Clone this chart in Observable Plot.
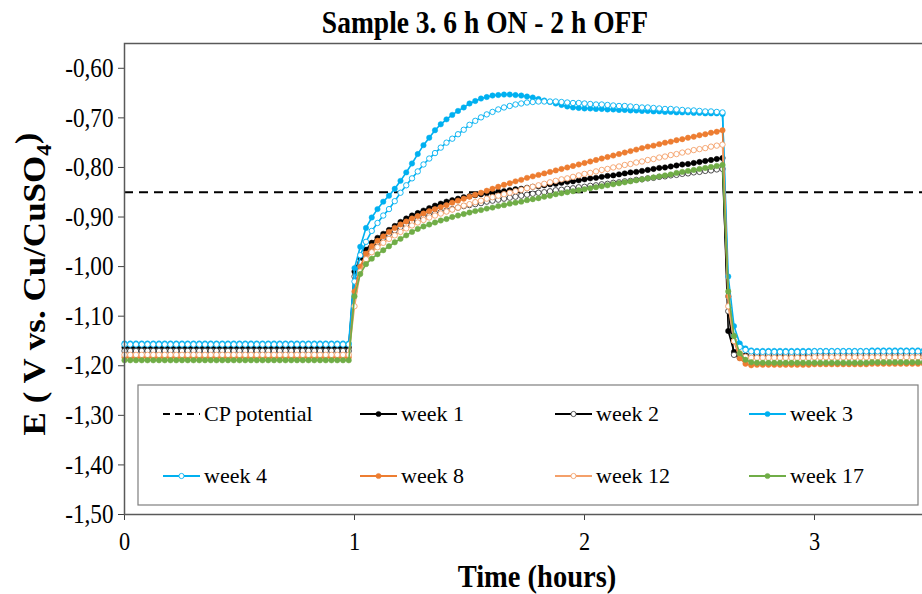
<!DOCTYPE html>
<html>
<head>
<meta charset="utf-8">
<script src="https://cdn.jsdelivr.net/npm/d3@7"></script>
<script src="https://cdn.jsdelivr.net/npm/@observablehq/plot@0.6"></script>
<style>
  html, body { margin: 0; padding: 0; background: #fff; overflow: hidden; }
  #chart { position: relative; width: 922px; height: 594px; overflow: hidden; }
  #chart svg { max-width: none !important; }
</style>
</head>
<body>
<div id="chart"></div>
<script>
// Sampling times (hours)
const hours = [
  0,0.025,0.05,0.075,0.1,0.125,0.15,0.175,0.2,0.225,
  0.25,0.275,0.3,0.325,0.35,0.375,0.4,0.425,0.45,0.475,
  0.5,0.525,0.55,0.575,0.6,0.625,0.65,0.675,0.7,0.725,
  0.75,0.775,0.8,0.825,0.85,0.875,0.9,0.925,0.95,0.975,
  1,1.025,1.05,1.075,1.1,1.125,1.15,1.175,1.2,1.225,
  1.25,1.275,1.3,1.325,1.35,1.375,1.4,1.425,1.45,1.475,
  1.5,1.525,1.55,1.575,1.6,1.625,1.65,1.675,1.7,1.725,
  1.75,1.775,1.8,1.825,1.85,1.875,1.9,1.925,1.95,1.975,
  2,2.025,2.05,2.075,2.1,2.125,2.15,2.175,2.2,2.225,
  2.25,2.275,2.3,2.325,2.35,2.375,2.4,2.425,2.45,2.475,
  2.5,2.525,2.55,2.575,2.6,2.625,2.65,2.675,2.7,2.725,
  2.75,2.775,2.8,2.825,2.85,2.875,2.9,2.925,2.95,2.975,
  3,3.025,3.05,3.075,3.1,3.125,3.15,3.175,3.2,3.225,
  3.25,3.275,3.3,3.325,3.35,3.375,3.4,3.425,3.45,3.475
];

// Cathodic protection criterion (V vs. Cu/CuSO4)
const cpPotential = -0.85;

// Measured potentials (V vs. Cu/CuSO4)
const week1 = [
  -1.163,-1.163,-1.163,-1.163,-1.163,-1.163,-1.163,-1.163,-1.163,-1.163,
  -1.163,-1.163,-1.163,-1.163,-1.163,-1.163,-1.163,-1.163,-1.163,-1.163,
  -1.163,-1.163,-1.163,-1.163,-1.163,-1.163,-1.163,-1.163,-1.163,-1.163,
  -1.163,-1.163,-1.163,-1.163,-1.163,-1.163,-1.163,-1.163,-1.163,-1.163,
  -1.010,-0.983,-0.966,-0.952,-0.942,-0.934,-0.926,-0.918,-0.910,-0.903,
  -0.897,-0.892,-0.887,-0.882,-0.877,-0.873,-0.869,-0.866,-0.863,-0.860,
  -0.858,-0.856,-0.854,-0.852,-0.851,-0.849,-0.848,-0.846,-0.844,-0.843,
  -0.841,-0.839,-0.838,-0.836,-0.834,-0.833,-0.831,-0.829,-0.828,-0.826,
  -0.824,-0.822,-0.821,-0.819,-0.817,-0.816,-0.814,-0.812,-0.810,-0.809,
  -0.807,-0.805,-0.803,-0.801,-0.800,-0.798,-0.796,-0.794,-0.793,-0.791,
  -0.789,-0.787,-0.785,-0.783,-0.781,-1.130,-1.172,-1.178,-1.179,-1.179,
  -1.178,-1.178,-1.178,-1.178,-1.178,-1.178,-1.178,-1.178,-1.178,-1.178,
  -1.177,-1.177,-1.177,-1.177,-1.177,-1.177,-1.177,-1.177,-1.177,-1.177,
  -1.176,-1.176,-1.176,-1.176,-1.176,-1.176,-1.176,-1.176,-1.176,-1.176
];
const week2 = [
  -1.170,-1.170,-1.170,-1.170,-1.170,-1.170,-1.170,-1.170,-1.170,-1.170,
  -1.170,-1.170,-1.170,-1.170,-1.170,-1.170,-1.170,-1.170,-1.170,-1.170,
  -1.170,-1.170,-1.170,-1.170,-1.170,-1.170,-1.170,-1.170,-1.170,-1.170,
  -1.170,-1.170,-1.170,-1.170,-1.170,-1.170,-1.170,-1.170,-1.170,-1.170,
  -1.020,-0.992,-0.975,-0.961,-0.951,-0.942,-0.934,-0.927,-0.920,-0.915,
  -0.910,-0.905,-0.901,-0.897,-0.893,-0.890,-0.887,-0.884,-0.881,-0.878,
  -0.876,-0.874,-0.872,-0.869,-0.867,-0.865,-0.863,-0.861,-0.859,-0.857,
  -0.855,-0.853,-0.851,-0.850,-0.848,-0.846,-0.845,-0.843,-0.842,-0.840,
  -0.839,-0.837,-0.836,-0.834,-0.833,-0.831,-0.830,-0.828,-0.827,-0.825,
  -0.824,-0.822,-0.821,-0.819,-0.818,-0.816,-0.815,-0.813,-0.812,-0.810,
  -0.809,-0.807,-0.806,-0.804,-0.803,-1.090,-1.178,-1.184,-1.181,-1.179,
  -1.178,-1.178,-1.178,-1.178,-1.178,-1.178,-1.178,-1.178,-1.178,-1.178,
  -1.177,-1.177,-1.177,-1.177,-1.177,-1.177,-1.177,-1.177,-1.177,-1.177,
  -1.177,-1.177,-1.177,-1.177,-1.177,-1.177,-1.177,-1.177,-1.177,-1.177
];
const week3 = [
  -1.155,-1.155,-1.155,-1.155,-1.155,-1.155,-1.155,-1.155,-1.155,-1.155,
  -1.155,-1.155,-1.155,-1.155,-1.155,-1.155,-1.155,-1.155,-1.155,-1.155,
  -1.155,-1.155,-1.155,-1.155,-1.155,-1.155,-1.155,-1.155,-1.155,-1.155,
  -1.155,-1.155,-1.155,-1.155,-1.155,-1.155,-1.155,-1.155,-1.155,-1.155,
  -1.003,-0.960,-0.922,-0.901,-0.884,-0.869,-0.857,-0.843,-0.827,-0.810,
  -0.792,-0.773,-0.755,-0.740,-0.725,-0.713,-0.703,-0.694,-0.686,-0.679,
  -0.671,-0.666,-0.661,-0.658,-0.655,-0.654,-0.653,-0.653,-0.654,-0.655,
  -0.657,-0.659,-0.662,-0.665,-0.668,-0.671,-0.674,-0.677,-0.679,-0.680,
  -0.681,-0.681,-0.682,-0.682,-0.683,-0.683,-0.684,-0.684,-0.685,-0.685,
  -0.686,-0.686,-0.687,-0.687,-0.688,-0.688,-0.689,-0.689,-0.689,-0.690,
  -0.690,-0.691,-0.691,-0.691,-0.692,-1.020,-1.120,-1.155,-1.165,-1.169,
  -1.170,-1.170,-1.170,-1.170,-1.170,-1.170,-1.170,-1.170,-1.170,-1.170,
  -1.170,-1.170,-1.170,-1.170,-1.170,-1.170,-1.170,-1.170,-1.170,-1.170,
  -1.169,-1.169,-1.169,-1.169,-1.169,-1.169,-1.169,-1.169,-1.169,-1.169
];
const week4 = [
  -1.157,-1.157,-1.157,-1.157,-1.157,-1.157,-1.157,-1.157,-1.157,-1.157,
  -1.157,-1.157,-1.157,-1.157,-1.157,-1.157,-1.157,-1.157,-1.157,-1.157,
  -1.157,-1.157,-1.157,-1.157,-1.157,-1.157,-1.157,-1.157,-1.157,-1.157,
  -1.157,-1.157,-1.157,-1.157,-1.157,-1.157,-1.157,-1.157,-1.157,-1.157,
  -1.030,-0.977,-0.950,-0.928,-0.912,-0.897,-0.884,-0.868,-0.851,-0.836,
  -0.822,-0.808,-0.794,-0.782,-0.771,-0.760,-0.750,-0.742,-0.733,-0.724,
  -0.714,-0.706,-0.699,-0.693,-0.688,-0.683,-0.679,-0.676,-0.673,-0.671,
  -0.669,-0.668,-0.667,-0.667,-0.667,-0.667,-0.668,-0.669,-0.670,-0.670,
  -0.671,-0.672,-0.673,-0.673,-0.674,-0.675,-0.676,-0.676,-0.677,-0.678,
  -0.679,-0.679,-0.680,-0.681,-0.682,-0.682,-0.683,-0.684,-0.685,-0.685,
  -0.686,-0.687,-0.687,-0.688,-0.689,-1.060,-1.140,-1.162,-1.168,-1.171,
  -1.172,-1.172,-1.172,-1.172,-1.172,-1.172,-1.172,-1.172,-1.172,-1.172,
  -1.171,-1.171,-1.171,-1.171,-1.171,-1.171,-1.171,-1.171,-1.171,-1.171,
  -1.171,-1.171,-1.171,-1.171,-1.171,-1.171,-1.171,-1.171,-1.171,-1.171
];
const week8 = [
  -1.183,-1.183,-1.183,-1.183,-1.183,-1.183,-1.183,-1.183,-1.183,-1.183,
  -1.183,-1.183,-1.183,-1.183,-1.183,-1.183,-1.183,-1.183,-1.183,-1.183,
  -1.183,-1.183,-1.183,-1.183,-1.183,-1.183,-1.183,-1.183,-1.183,-1.183,
  -1.183,-1.183,-1.183,-1.183,-1.183,-1.183,-1.183,-1.183,-1.183,-1.183,
  -1.050,-1.000,-0.974,-0.959,-0.948,-0.939,-0.930,-0.922,-0.915,-0.909,
  -0.903,-0.898,-0.893,-0.888,-0.884,-0.880,-0.876,-0.871,-0.867,-0.863,
  -0.859,-0.855,-0.851,-0.847,-0.843,-0.839,-0.835,-0.832,-0.828,-0.825,
  -0.821,-0.818,-0.815,-0.812,-0.809,-0.806,-0.803,-0.800,-0.797,-0.794,
  -0.791,-0.788,-0.785,-0.782,-0.779,-0.776,-0.773,-0.770,-0.767,-0.764,
  -0.761,-0.758,-0.756,-0.753,-0.750,-0.748,-0.745,-0.743,-0.740,-0.738,
  -0.735,-0.733,-0.730,-0.728,-0.725,-1.060,-1.150,-1.185,-1.196,-1.199,
  -1.198,-1.198,-1.198,-1.198,-1.198,-1.198,-1.198,-1.198,-1.198,-1.198,
  -1.197,-1.197,-1.197,-1.197,-1.197,-1.197,-1.197,-1.197,-1.197,-1.197,
  -1.196,-1.196,-1.196,-1.196,-1.196,-1.196,-1.196,-1.196,-1.196,-1.196
];
const week12 = [
  -1.178,-1.178,-1.178,-1.178,-1.178,-1.178,-1.178,-1.178,-1.178,-1.178,
  -1.178,-1.178,-1.178,-1.178,-1.178,-1.178,-1.178,-1.178,-1.178,-1.178,
  -1.178,-1.178,-1.178,-1.178,-1.178,-1.178,-1.178,-1.178,-1.178,-1.178,
  -1.178,-1.178,-1.178,-1.178,-1.178,-1.178,-1.178,-1.178,-1.178,-1.178,
  -1.080,-1.010,-0.985,-0.971,-0.961,-0.952,-0.944,-0.937,-0.930,-0.923,
  -0.917,-0.911,-0.906,-0.901,-0.897,-0.893,-0.889,-0.885,-0.881,-0.877,
  -0.874,-0.870,-0.867,-0.863,-0.860,-0.857,-0.854,-0.851,-0.848,-0.845,
  -0.842,-0.839,-0.836,-0.833,-0.830,-0.827,-0.824,-0.822,-0.819,-0.816,
  -0.813,-0.811,-0.808,-0.805,-0.803,-0.800,-0.798,-0.795,-0.793,-0.790,
  -0.788,-0.785,-0.783,-0.780,-0.778,-0.775,-0.773,-0.770,-0.768,-0.765,
  -0.763,-0.761,-0.758,-0.756,-0.754,-1.080,-1.150,-1.175,-1.182,-1.184,
  -1.184,-1.184,-1.184,-1.184,-1.184,-1.184,-1.184,-1.184,-1.184,-1.184,
  -1.183,-1.183,-1.183,-1.183,-1.183,-1.183,-1.183,-1.183,-1.183,-1.183,
  -1.183,-1.183,-1.183,-1.183,-1.183,-1.183,-1.183,-1.183,-1.183,-1.183
];
const week17 = [
  -1.189,-1.189,-1.189,-1.189,-1.189,-1.189,-1.189,-1.189,-1.189,-1.189,
  -1.189,-1.189,-1.189,-1.189,-1.189,-1.189,-1.189,-1.189,-1.189,-1.189,
  -1.189,-1.189,-1.189,-1.189,-1.189,-1.189,-1.189,-1.189,-1.189,-1.189,
  -1.189,-1.189,-1.189,-1.189,-1.189,-1.189,-1.189,-1.189,-1.189,-1.189,
  -1.060,-1.015,-0.995,-0.984,-0.975,-0.967,-0.959,-0.951,-0.944,-0.937,
  -0.930,-0.924,-0.919,-0.915,-0.911,-0.907,-0.904,-0.900,-0.897,-0.894,
  -0.891,-0.888,-0.886,-0.883,-0.881,-0.878,-0.876,-0.873,-0.871,-0.869,
  -0.866,-0.864,-0.862,-0.859,-0.857,-0.854,-0.852,-0.850,-0.848,-0.846,
  -0.844,-0.842,-0.840,-0.838,-0.836,-0.834,-0.832,-0.830,-0.828,-0.826,
  -0.824,-0.822,-0.820,-0.818,-0.816,-0.814,-0.811,-0.809,-0.807,-0.805,
  -0.803,-0.801,-0.799,-0.797,-0.795,-1.050,-1.140,-1.175,-1.188,-1.193,
  -1.194,-1.194,-1.194,-1.194,-1.194,-1.194,-1.194,-1.194,-1.194,-1.194,
  -1.194,-1.194,-1.194,-1.194,-1.194,-1.194,-1.194,-1.194,-1.194,-1.194,
  -1.193,-1.193,-1.193,-1.193,-1.193,-1.193,-1.193,-1.193,-1.193,-1.193
];

const seriesNames  = ["week 1", "week 2", "week 3", "week 4", "week 8", "week 12", "week 17"];
const seriesValues = [week1, week2, week3, week4, week8, week12, week17];
const seriesColors = ["#000000", "#000000", "#00b0f0", "#00b0f0", "#ed7d31", "#f4a06a", "#70ad47"];
const markerStroke = ["#000000", "#404040", "#00b0f0", "#00b0f0", "#ed7d31", "#f4a06a", "#70ad47"];
const seriesHollow = [false, true, false, true, false, true, false];

const xTicks = [0, 1, 2, 3];
const yTicks = [-0.6, -0.7, -0.8, -0.9, -1.0, -1.1, -1.2, -1.3, -1.4, -1.5];

const titleText = "Sample 3. 6 h ON - 2 h OFF";
const xLabelText = "Time (hours)";

const serif = "'Liberation Serif', 'Times New Roman', serif";
const commaFormat = v => v.toFixed(2).replace(".", ",");
const narrow = 0.86; // horizontal squeeze of the serif lettering

// One table per series: time and potential
const tables = seriesValues.map((vals, k) =>
  hours.map((t, i) => ({series: seriesNames[k], t, e: vals[i]}))
);

const seriesMarks = tables.flatMap((rows, k) => [
  Plot.line(rows, {x: "t", y: "e", stroke: seriesColors[k], strokeWidth: 1.6}),
  Plot.dot(rows, {
    x: "t", y: "e", r: 2.7,
    fill: seriesHollow[k] ? "#ffffff" : seriesColors[k],
    stroke: markerStroke[k],
    strokeWidth: seriesHollow[k] ? 0.9 : 0.5
  })
]);

const chart = Plot.plot({
  width: 930,
  height: 594,
  marginLeft: 124,
  marginRight: 1,
  marginTop: 43,
  marginBottom: 80,
  style: {fontFamily: serif, fontSize: "27px", color: "#000", background: "#fff"},
  x: {domain: [0, 3.5]},
  y: {domain: [-1.5, -0.55]},
  marks: [
    Plot.axisY({ticks: yTicks, tickFormat: commaFormat, tickSize: 6, tickPadding: 5,
                fontSize: 27, label: null, stroke: "#404040"}),
    Plot.axisX({ticks: xTicks, tickFormat: d => String(d), tickSize: 6, tickPadding: 11,
                fontSize: 26, label: null, stroke: "#404040"}),
    Plot.ruleY([cpPotential], {stroke: "#000", strokeWidth: 2, strokeDasharray: "9,6"}),
    ...seriesMarks,
    Plot.frame({stroke: "#595959", strokeWidth: 1.5})
  ]
});

document.getElementById("chart").appendChild(chart);

const svg = d3.select(chart);

// Narrow the tick lettering around each label's own anchor
svg.selectAll("g[aria-label$='tick label'] text").each(function() {
  const t = this.getAttribute("transform") || "";
  this.setAttribute("transform", t + ` scale(${narrow},1)`);
});

// Title
svg.append("text")
  .attr("transform", `translate(485,33) scale(${narrow},1)`)
  .attr("text-anchor", "middle")
  .style("font-family", serif).style("font-weight", "bold").style("font-size", "32px")
  .text(titleText);

// Axis titles
svg.append("text")
  .attr("transform", `translate(537,587) scale(0.92,1)`)
  .attr("text-anchor", "middle")
  .style("font-family", serif).style("font-weight", "bold").style("font-size", "31px")
  .text(xLabelText);

const yLabel = svg.append("text")
  .attr("transform", "translate(45,284) rotate(-90) scale(1,0.88)")
  .attr("text-anchor", "middle")
  .style("font-family", serif).style("font-weight", "bold").style("font-size", "35px");
yLabel.append("tspan").text("E ( V vs. Cu/CuSO");
yLabel.append("tspan").attr("dy", "0.3em").style("font-size", "23px").text("4");
yLabel.append("tspan").attr("dy", "-0.45em").text(")");

// Legend
const legend = svg.append("g")
  .attr("text-anchor", "start")
  .style("font-family", serif).style("font-size", "22px");
legend.append("rect")
  .attr("x", 138).attr("y", 385).attr("width", 780).attr("height", 120)
  .attr("fill", "#fff").attr("stroke", "#7f7f7f").attr("stroke-width", 1.2);

const legendItems = [{name: "CP potential", k: -1}].concat(seriesNames.map((name, k) => ({name, k})));
const colX = [163, 360, 555, 749];
const rowY = [414, 476];
legendItems.forEach((item, j) => {
  const x0 = colX[j % 4], y0 = rowY[Math.floor(j / 4)];
  const g = legend.append("g");
  if (item.k < 0) {
    g.append("line").attr("x1", x0).attr("x2", x0 + 37).attr("y1", y0).attr("y2", y0)
      .attr("stroke", "#000").attr("stroke-width", 2).attr("stroke-dasharray", "7,5");
  } else {
    const k = item.k;
    g.append("line").attr("x1", x0).attr("x2", x0 + 37).attr("y1", y0).attr("y2", y0)
      .attr("stroke", seriesColors[k]).attr("stroke-width", 2);
    g.append("circle").attr("cx", x0 + 18.5).attr("cy", y0).attr("r", 2.6)
      .attr("fill", seriesHollow[k] ? "#fff" : seriesColors[k])
      .attr("stroke", markerStroke[k]).attr("stroke-width", seriesHollow[k] ? 0.9 : 0.5);
  }
  g.append("text").attr("x", x0 + 41).attr("y", y0 + 7).attr("fill", "#000").text(item.name);
});
</script>
</body>
</html>
